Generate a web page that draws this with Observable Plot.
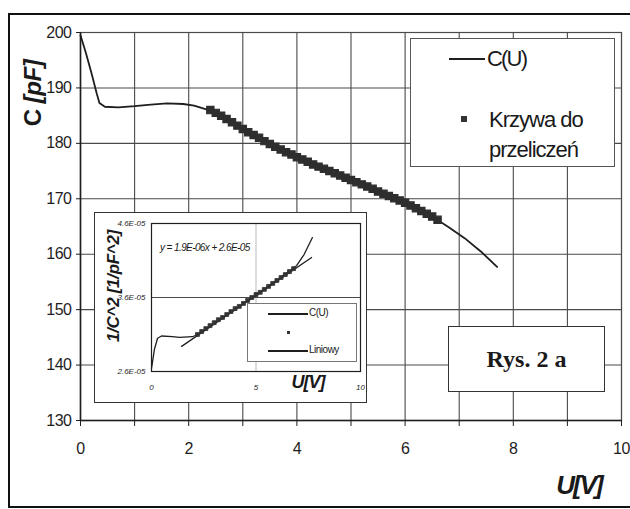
<!DOCTYPE html>
<html>
<head>
<meta charset="utf-8">
<script src="https://cdn.jsdelivr.net/npm/d3@7"></script>
<script src="https://cdn.jsdelivr.net/npm/@observablehq/plot@0.6"></script>
<style>
  html, body { margin: 0; padding: 0; background: #fff; overflow: hidden; }
  #wrap { position: relative; width: 630px; height: 509px; overflow: hidden; font-family: "Liberation Sans", Arial, sans-serif; color: #1a1a1a; }
  #wrap svg { display: block; }
  .abs { position: absolute; }
  .box { position: absolute; background: #fff; box-sizing: border-box; }
  .rot { position: absolute; transform: translate(-50%, -50%) rotate(-90deg); white-space: nowrap; }
  .ctr { position: absolute; transform: translate(-50%, -50%); white-space: nowrap; }
</style>
</head>
<body>
<div id="wrap"></div>
<script>
// ---- main chart data: C(U) curve ----
const U = [0, 0.1, 0.2, 0.3, 0.35, 0.45, 0.7, 1.0, 1.3, 1.6, 1.9, 2.1, 2.4, 2.7, 3.0, 3.5, 4.0, 4.5, 5.0, 5.5, 6.0, 6.5, 6.8, 7.1, 7.4, 7.7];
const C = [199.5, 196.3, 192.8, 189, 187.3, 186.6, 186.5, 186.7, 187, 187.2, 187.1, 186.8, 185.9, 184.5, 182.8, 180, 177.5, 175.4, 173.4, 171.3, 169.4, 166.8, 164.9, 162.9, 160.5, 157.7];
// ---- "Krzywa do przeliczeń" markers ----
const bandU = [2.4, 2.5, 2.6, 2.7, 2.8, 2.9, 3.0, 3.1, 3.2, 3.3, 3.4, 3.5, 3.6, 3.7, 3.8, 3.9, 4.0, 4.1, 4.2, 4.3, 4.4, 4.5, 4.6, 4.7, 4.8, 4.9, 5.0, 5.1, 5.2, 5.3, 5.4, 5.5, 5.6, 5.7, 5.8, 5.9, 6.0, 6.1, 6.2, 6.3, 6.4, 6.5, 6.6];
const bandC = [186.0, 185.5, 185.0, 184.4, 183.8, 183.2, 182.6, 182.0, 181.5, 181.0, 180.4, 179.9, 179.4, 178.9, 178.4, 178.0, 177.5, 177.1, 176.7, 176.2, 175.8, 175.4, 175.0, 174.6, 174.2, 173.8, 173.4, 173.0, 172.6, 172.2, 171.8, 171.3, 170.9, 170.5, 170.1, 169.7, 169.3, 168.8, 168.3, 167.8, 167.3, 166.8, 166.2];
const gridU = [0, 1, 2, 3, 4, 5, 6, 7, 8, 9, 10];
const xTickLabels = ["0", "", "2", "", "4", "", "6", "", "8", "", "10"];
const yTicks = [130, 140, 150, 160, 170, 180, 190, 200];

// ---- inset data: 1/C^2 vs U ----
const insetU = [0, 0.14, 0.29, 0.48, 1.0, 1.34, 1.96, 2.2, 3.4, 4.83, 6.12, 6.94, 7.3, 7.7];
const insetY = [2.64e-5, 2.90e-5, 3.05e-5, 3.08e-5, 3.07e-5, 3.06e-5, 3.07e-5, 3.10e-5, 3.33e-5, 3.60e-5, 3.86e-5, 4.03e-5, 4.18e-5, 4.41e-5];
const insetBandU = [2.2, 2.4, 2.6, 2.8, 3.0, 3.2, 3.4, 3.6, 3.8, 4.0, 4.2, 4.4, 4.6, 4.8, 5.0, 5.2, 5.4, 5.6, 5.8, 6.0, 6.2, 6.4, 6.6, 6.8];
const insetBandY = [3.10e-5, 3.14e-5, 3.18e-5, 3.22e-5, 3.26e-5, 3.30e-5, 3.33e-5, 3.37e-5, 3.41e-5, 3.45e-5, 3.48e-5, 3.52e-5, 3.56e-5, 3.60e-5, 3.64e-5, 3.67e-5, 3.71e-5, 3.75e-5, 3.79e-5, 3.83e-5, 3.87e-5, 3.91e-5, 3.95e-5, 3.99e-5];
const fitU = [1.44, 7.66];
const fitY = [2.94e-5, 4.14e-5];
const insetXTicks = [0, 5, 10];
const insetYTicks = [2.6e-5, 3.6e-5, 4.6e-5];
const insetYLabels = ["2.6E-05", "3.6E-05", "4.6E-05"];

const wrap = document.getElementById("wrap");
const ink = "#1e1e1e";
const gridInk = "#4a4a4a";

const curve = U.map((u, i) => ({u, c: C[i]}));
const band = bandU.map((u, i) => ({u, c: bandC[i]}));

const main = Plot.plot({
  width: 630, height: 509,
  marginLeft: 80, marginRight: 9, marginTop: 32, marginBottom: 89,
  style: {fontFamily: "Liberation Sans, Arial, sans-serif", fontSize: "16px", color: ink, background: "transparent", letterSpacing: "-0.5px"},
  x: {domain: [0, 10]},
  y: {domain: [130, 200]},
  marks: [
    Plot.gridX(gridU, {stroke: gridInk, strokeOpacity: 1, strokeWidth: 1.1}),
    Plot.gridY(yTicks, {stroke: gridInk, strokeOpacity: 1, strokeWidth: 1.1}),
    Plot.frame({stroke: gridInk, strokeWidth: 1.2}),
    Plot.axisX(gridU, {tickSize: 6, tickPadding: 16, tickFormat: (d, i) => xTickLabels[i], label: null, stroke: ink}),
    Plot.axisY(yTicks, {tickSize: 4, tickPadding: 5, label: null, stroke: ink}),
    Plot.ruleY([130], {stroke: ink, strokeWidth: 1.5}),
    Plot.ruleX([0], {stroke: ink, strokeWidth: 1.5}),
    Plot.line(curve, {x: "u", y: "c", stroke: ink, strokeWidth: 1.8}),
    Plot.dot(band, {x: "u", y: "c", symbol: "square", r: 4.1, fill: "#2e2e2e", stroke: "#2e2e2e", strokeWidth: 1.2})
  ]
});
wrap.appendChild(main);
main.style.position = "absolute";
main.style.left = "0px";
main.style.top = "0px";

function add(html, cls, css) {
  const d = document.createElement("div");
  d.className = cls;
  Object.assign(d.style, css);
  d.innerHTML = html;
  wrap.appendChild(d);
  return d;
}

// Axis titles
add('C <i>[pF]</i>', "rot", {left: "33px", top: "93px", fontSize: "24px", fontWeight: "bold", letterSpacing: "-0.5px"});
add('<i>U[V]</i>', "ctr", {left: "579px", top: "485px", fontSize: "26px", fontWeight: "bold", letterSpacing: "-2px"});

// Main legend
const leg = add("", "box", {left: "410px", top: "38px", width: "205px", height: "129px", border: "1px solid #555"});
leg.innerHTML = `
  <div class="abs" style="left:38px;top:19px;width:36px;height:2px;background:${ink}"></div>
  <div class="abs" style="left:76px;top:6px;font-size:22px;letter-spacing:-1.8px;line-height:28px">C(U)</div>
  <div class="abs" style="left:50px;top:77px;width:6px;height:6px;background:#333"></div>
  <div class="abs" style="left:78px;top:66px;font-size:22px;letter-spacing:-1px;line-height:30px">Krzywa do<br>przeliczeń</div>`;

// Rys. 2 a box
const rys = add("", "box", {left: "448px", top: "326px", width: "157px", height: "66px", border: "1.5px solid #333"});
rys.innerHTML = `<div class="ctr" style="left:50%;top:50%;font-family:'Liberation Serif','Times New Roman',serif;font-weight:bold;font-size:24px">Rys. 2 a</div>`;

// Inset
const inset = add("", "box", {left: "94px", top: "212px", width: "273px", height: "191px", border: "1.5px solid #333"});
const iCurve = insetU.map((u, i) => ({u, y: insetY[i]}));
const iBand = insetBandU.map((u, i) => ({u, y: insetBandY[i]}));
const iFit = fitU.map((u, i) => ({u, y: fitY[i]}));
const ins = Plot.plot({
  width: 270, height: 188,
  marginLeft: 56, marginRight: 5, marginTop: 10, marginBottom: 30,
  style: {fontFamily: "Liberation Sans, Arial, sans-serif", fontSize: "8px", color: ink, background: "transparent"},
  x: {domain: [0, 10]},
  y: {domain: [2.6e-5, 4.6e-5]},
  marks: [
    Plot.gridX([5], {stroke: "#bbb", strokeOpacity: 1}),
    Plot.gridY([3.6e-5], {stroke: gridInk, strokeOpacity: 1}),
    Plot.frame({stroke: ink, strokeWidth: 1.2}),
    Plot.axisX(insetXTicks, {tickSize: 0, tickPadding: 13, fontStyle: "italic", label: null}),
    Plot.axisY(insetYTicks, {tickSize: 0, tickPadding: 6, tickFormat: (d, i) => insetYLabels[i], fontStyle: "italic", label: null, letterSpacing: "-0.4px"}),
    Plot.line(iFit, {x: "u", y: "y", stroke: ink, strokeWidth: 1.3}),
    Plot.line(iCurve, {x: "u", y: "y", stroke: ink, strokeWidth: 1.3}),
    Plot.dot(iBand, {x: "u", y: "y", symbol: "square", r: 2.2, fill: "#333", stroke: "#333", strokeWidth: 0.8})
  ]
});
inset.appendChild(ins);
inset.insertAdjacentHTML("beforeend", `
  <div class="rot" style="left:19px;top:73px;font-size:17px;font-weight:bold;font-style:italic;letter-spacing:-0.3px">1/C^2 [1/pF^2]</div>
  <div class="ctr" style="left:213px;top:169px;font-size:18px;font-weight:bold;font-style:italic;letter-spacing:-1px">U[V]</div>
  <div class="abs" style="left:65px;top:29px;font-size:10px;font-style:italic;letter-spacing:-0.6px">y = 1.9E-06x + 2.6E-05</div>
  <div class="abs" style="left:152px;top:90px;width:110px;height:59px;border:1px solid #777;background:#fff;box-sizing:border-box">
    <div class="abs" style="left:20px;top:9px;width:40px;height:2px;background:${ink}"></div>
    <div class="abs" style="left:61px;top:3px;font-size:10px;letter-spacing:-0.5px">C(U)</div>
    <div class="abs" style="left:39px;top:27px;width:3px;height:3px;background:#333"></div>
    <div class="abs" style="left:20px;top:46px;width:40px;height:2px;background:${ink}"></div>
    <div class="abs" style="left:61px;top:40px;font-size:10px;letter-spacing:-0.5px">Liniowy</div>
  </div>`);
const insSvg = inset.querySelector("svg");
insSvg.style.position = "absolute";
insSvg.style.left = "0px";
insSvg.style.top = "0px";

// outer scan frame
add("", "abs", {left: "8px", top: "13px", width: "640px", height: "495px", border: "2.5px solid #111", boxSizing: "border-box", pointerEvents: "none"});
</script>
</body>
</html>
